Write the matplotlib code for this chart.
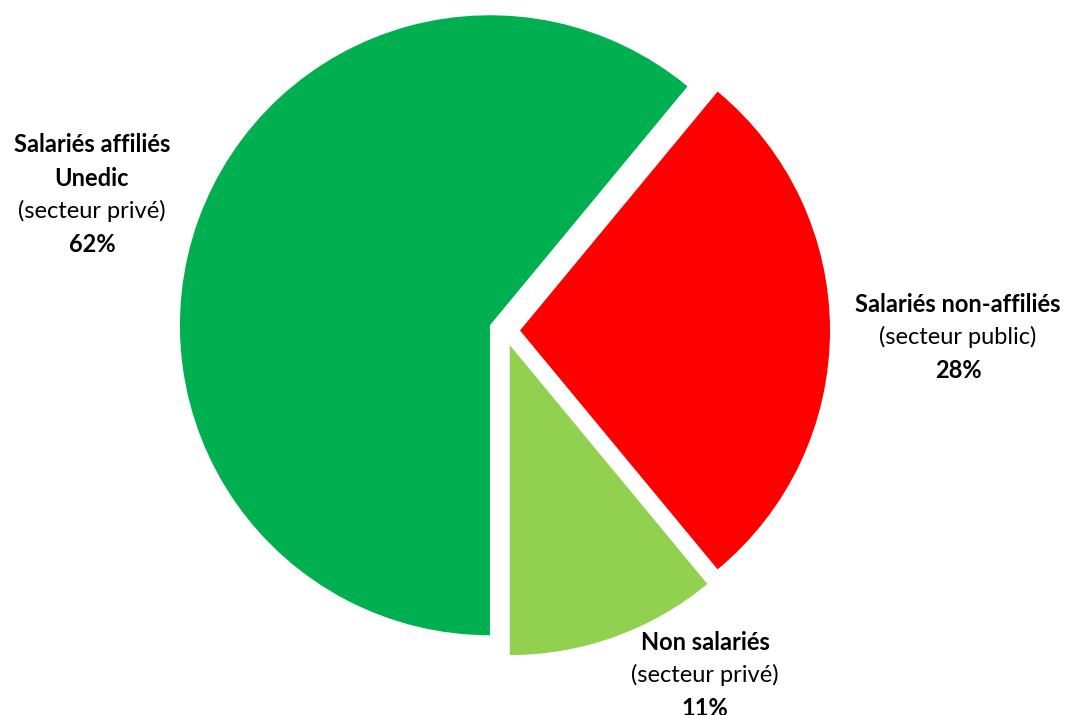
import matplotlib
matplotlib.use("Agg")
import matplotlib.pyplot as plt

# ── Data ──────────────────────────────────────────────
labels = ["Salariés non-affiliés", "Salariés affiliés Unedic", "Non salariés"]
sublabels = ["(secteur public)", "(secteur privé)", "(secteur privé)"]
values = [28, 61, 11]
pct_labels = ["28%", "62%", "11%"]
colors = ["#FF0000", "#00B050", "#92D050"]

W, H = 1069, 715
plt.rcParams["font.family"] = ["Lato", "DejaVu Sans"]

fig = plt.figure(figsize=(W / 100, H / 100), dpi=100)
ax = fig.add_axes([0, 0, 1, 1])
ax.set_xlim(0, W)
ax.set_ylim(0, H)
ax.set_aspect("equal")
ax.axis("off")

# pie in pixel-like data units (explode is in data units, not fraction)
cx, cy, r = 504.5, H - 330.5, 310
ax.pie(values, colors=colors, radius=r, center=(cx, cy),
       startangle=-50.4, counterclock=True,
       explode=[15.5] * 3,
       wedgeprops=dict(linewidth=0))
ax.set_xlim(0, W)
ax.set_ylim(0, H)


def label_block(x, y_top, lines, size=17, step=33):
    for i, (txt, bold) in enumerate(lines):
        ax.text(x, H - (y_top + i * step), txt, ha="center", va="center",
                fontsize=size, fontweight="bold" if bold else "normal",
                color="black")


label_block(92, 145, [("Salariés affiliés", True), ("Unedic", True),
                      (sublabels[1], False), (pct_labels[1], True)])
label_block(958, 304, [(labels[0], True), (sublabels[0], False),
                       (pct_labels[0], True)])
label_block(705, 642, [(labels[2], True), (sublabels[2], False),
                       (pct_labels[2], True)])

fig.savefig("out.png", dpi=100, facecolor="white")
